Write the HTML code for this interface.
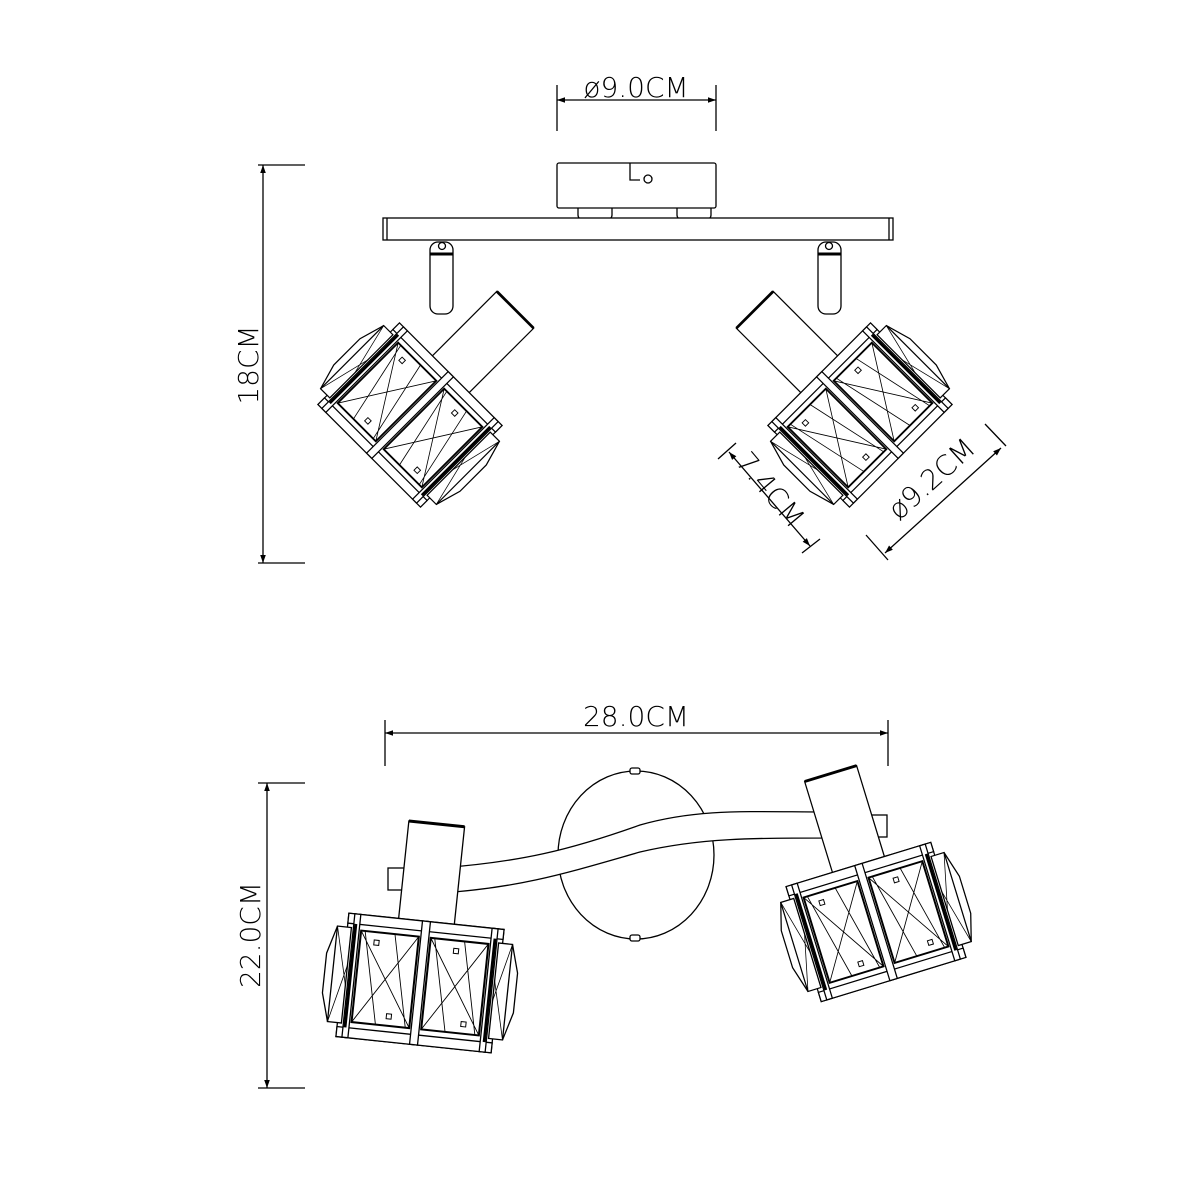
<!DOCTYPE html>
<html><head><meta charset="utf-8"><style>
html,body{margin:0;padding:0;background:#fff}
svg{display:block}
text{font-family:"DejaVu Sans","Liberation Sans",sans-serif;font-weight:200;fill:#000}
</style></head><body>
<svg width="1200" height="1200" viewBox="0 0 1200 1200" xmlns="http://www.w3.org/2000/svg">
<defs>
<marker id="ar" viewBox="0 0 10 10" refX="10" refY="5" markerWidth="12" markerHeight="8" orient="auto-start-reverse" markerUnits="userSpaceOnUse"><path d="M0,1.5 L10,5 L0,8.5 z" fill="#000"/></marker>
<g id="shade" fill="#fff" stroke="#000" stroke-width="1.3">
  <rect x="-28" y="-160" width="56" height="102"/>
  <line x1="-28" y1="-160" x2="28" y2="-160" stroke-width="3"/>
  <rect x="-78" y="-62" width="156" height="124"/>
  <rect x="-88" y="-48" width="14" height="96"/>
  <rect x="74" y="-48" width="14" height="96"/>
  <path d="M-88,-48 L-96,-20 L-96,20 L-88,48" fill="none"/>
  <path d="M88,-48 L96,-20 L96,20 L88,48" fill="none"/>
  <path d="M-88,-48 L-74,10 M-88,48 L-74,-10 M88,-48 L74,10 M88,48 L74,-10" fill="none" stroke-width="0.8"/>
  <rect x="-78" y="-62" width="156" height="10"/>
  <rect x="-78" y="52" width="156" height="10"/>
  <rect x="-72" y="-62" width="6" height="124"/>
  <rect x="-4" y="-62" width="8" height="124"/>
  <rect x="66" y="-62" width="6" height="124"/>
  <line x1="-70" y1="-52" x2="-70" y2="52" stroke-width="3"/>
  <line x1="70" y1="-52" x2="70" y2="52" stroke-width="3"/>
  <rect x="-64" y="-46" width="58" height="92" stroke-width="2"/>
  <rect x="6" y="-46" width="58" height="92" stroke-width="2"/>
  <path d="M-64,-46 L-6,46 M-6,-46 L-64,46 M-60,-46 L-40,46 M-10,46 L-30,-46 M6,-46 L64,46 M64,-46 L6,46 M10,-46 L30,46 M60,46 L40,-46" fill="none" stroke-width="0.9"/>
  <rect x="-50" y="-38" width="5" height="5" stroke-width="1"/>
  <rect x="-30" y="34" width="5" height="5" stroke-width="1"/>
  <rect x="30" y="-38" width="5" height="5" stroke-width="1"/>
  <rect x="45" y="34" width="5" height="5" stroke-width="1"/>
</g>
</defs>

<g fill="none" stroke="#000" stroke-width="1.3">
<line x1="557" y1="85" x2="557" y2="131"/><line x1="716" y1="85" x2="716" y2="131"/>
<line x1="557" y1="100" x2="716" y2="100" marker-start="url(#ar)" marker-end="url(#ar)"/>
<line x1="258" y1="165" x2="305" y2="165"/><line x1="258" y1="563" x2="305" y2="563"/>
<line x1="263" y1="165" x2="263" y2="563" marker-start="url(#ar)" marker-end="url(#ar)"/>
<line x1="385" y1="720" x2="385" y2="766"/><line x1="888" y1="720" x2="888" y2="766"/>
<line x1="385" y1="733" x2="888" y2="733" marker-start="url(#ar)" marker-end="url(#ar)"/>
<line x1="258" y1="783" x2="305" y2="783"/><line x1="258" y1="1088" x2="305" y2="1088"/>
<line x1="267" y1="783" x2="267" y2="1088" marker-start="url(#ar)" marker-end="url(#ar)"/>
<line x1="718" y1="459" x2="736" y2="443"/><line x1="802" y1="553" x2="820" y2="539"/>
<line x1="729" y1="452" x2="810" y2="546" marker-start="url(#ar)" marker-end="url(#ar)"/>
<line x1="866" y1="535" x2="888" y2="560"/><line x1="985" y1="424" x2="1006" y2="446"/>
<line x1="885" y1="553" x2="1001" y2="448" marker-start="url(#ar)" marker-end="url(#ar)"/>
</g>
<text x="636" y="97" font-size="28" text-anchor="middle">ø9.0CM</text>
<text x="636" y="726" font-size="28" text-anchor="middle">28.0CM</text>
<text transform="translate(258,365) rotate(-90)" font-size="28" text-anchor="middle">18CM</text>
<text transform="translate(260,935) rotate(-90)" font-size="28" text-anchor="middle">22.0CM</text>
<text transform="translate(763,496) rotate(50)" font-size="28" text-anchor="middle">7.4CM</text>
<text transform="translate(938,486) rotate(-42)" font-size="28" text-anchor="middle">ø9.2CM</text>

<g fill="#fff" stroke="#000" stroke-width="1.3">
<rect x="578" y="203" width="34" height="17" rx="5"/>
<rect x="677" y="203" width="34" height="17" rx="5"/>
<rect x="557" y="163" width="159" height="45" rx="2"/>
<path d="M630,163 V180 H640" fill="none"/><circle cx="648" cy="179" r="4"/>
<rect x="383" y="218" width="510" height="22"/>
<line x1="387" y1="218" x2="387" y2="240"/><line x1="889" y1="218" x2="889" y2="240"/>
<rect x="430" y="242" width="23" height="72" rx="8"/>
<rect x="818" y="242" width="23" height="72" rx="8"/>
<circle cx="442" cy="246" r="3.5"/><circle cx="829" cy="246" r="3.5"/>
<line x1="430" y1="254" x2="453" y2="254" stroke-width="3"/>
<line x1="818" y1="254" x2="841" y2="254" stroke-width="3"/>
</g>
<use href="#shade" transform="translate(410,415) rotate(45) scale(0.93)"/>
<use href="#shade" transform="translate(860,415) rotate(-45) scale(0.93)"/>

<g fill="#fff" stroke="#000" stroke-width="1.3">
<ellipse cx="636" cy="855" rx="78" ry="84"/>
<rect x="630" y="768" width="10" height="6" rx="2"/><rect x="630" y="935" width="10" height="6" rx="2"/>
<rect x="388" y="868" width="25" height="22"/>
<rect x="862" y="815" width="25" height="22"/>
<path d="M440,868 C520,862 570,850 640,825 C700,808 750,812 830,812 L835,838 C750,838 700,838 640,852 C570,872 520,888 440,893 Z"/>
</g>
<use href="#shade" transform="translate(420,983) rotate(6) scale(1.0)"/>
<use href="#shade" transform="translate(876,922) rotate(-17) scale(0.97)"/>
</svg>
</body></html>
